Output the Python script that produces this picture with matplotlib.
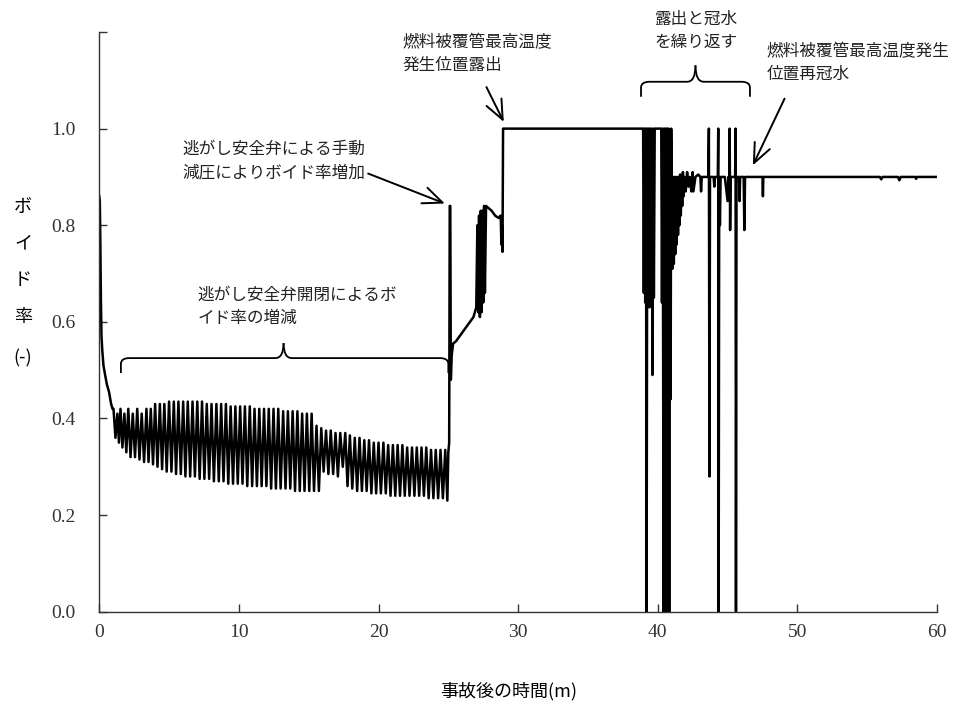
import numpy as np
import matplotlib
matplotlib.use('Agg')
import matplotlib.pyplot as plt
import matplotlib.patches as patches
from matplotlib.path import Path

plt.rcParams['font.family'] = ['Noto Sans CJK JP', 'DejaVu Sans']

# ----------------------------------------------------------------
# donnees : temps (min) / taux de vide (-)

# chute initiale
t_blow = [0.0, 0.04, 0.08, 0.12, 0.16, 0.22, 0.30, 0.42, 0.55, 0.70, 0.85, 0.95]
v_blow = [0.86, 0.85, 0.76, 0.64, 0.57, 0.54, 0.51, 0.49, 0.47, 0.455, 0.43, 0.42]

# ouverture / fermeture des SRV : sommets et creux
t_peak = [1.02, 1.30, 1.52, 1.80, 2.08, 2.40, 2.72, 3.04, 3.38, 3.69, 4.00, 4.34,
          4.66, 5.00, 5.34, 5.67, 6.01, 6.34, 6.68, 7.02, 7.36, 7.70, 8.04, 8.39,
          8.73, 9.07, 9.41, 9.75, 10.09, 10.43, 10.78, 11.12, 11.46, 11.80, 12.14, 12.48,
          12.82, 13.17, 13.51, 13.85, 14.19, 14.53, 14.87, 15.21, 15.56, 15.90, 16.24, 16.58,
          16.92, 17.26, 17.62, 17.95, 18.30, 18.64, 18.98, 19.32, 19.66, 20.00, 20.35, 20.69,
          21.03, 21.37, 21.71, 22.05, 22.40, 22.74, 23.08, 23.42, 23.76, 24.10, 24.44, 24.78]
v_peak = [0.42, 0.41, 0.42, 0.41, 0.42, 0.41, 0.42, 0.41, 0.42, 0.42, 0.43, 0.43,
          0.43, 0.435, 0.435, 0.435, 0.435, 0.435, 0.435, 0.435, 0.435, 0.43, 0.43, 0.43,
          0.43, 0.43, 0.425, 0.425, 0.425, 0.425, 0.425, 0.42, 0.42, 0.42, 0.42, 0.42,
          0.42, 0.415, 0.415, 0.415, 0.415, 0.41, 0.41, 0.41, 0.385, 0.38, 0.375, 0.375,
          0.37, 0.37, 0.37, 0.365, 0.36, 0.36, 0.355, 0.355, 0.35, 0.35, 0.35, 0.345,
          0.345, 0.345, 0.345, 0.34, 0.34, 0.34, 0.34, 0.34, 0.335, 0.335, 0.335, 0.335]
t_trough = [1.16, 1.41, 1.66, 1.94, 2.24, 2.56, 2.88, 3.21, 3.53, 3.85, 4.17, 4.50,
            4.83, 5.17, 5.50, 5.84, 6.17, 6.51, 6.85, 7.19, 7.53, 7.87, 8.21, 8.56,
            8.90, 9.24, 9.58, 9.92, 10.26, 10.60, 10.95, 11.29, 11.63, 11.97, 12.31, 12.65,
            12.99, 13.34, 13.68, 14.02, 14.36, 14.70, 15.04, 15.38, 15.73, 16.07, 16.41, 16.75,
            17.09, 17.44, 17.78, 18.12, 18.47, 18.81, 19.15, 19.49, 19.83, 20.17, 20.52, 20.86,
            21.20, 21.54, 21.88, 22.22, 22.57, 22.91, 23.25, 23.59, 23.93, 24.27, 24.61, 24.93]
v_trough = [0.36, 0.35, 0.34, 0.33, 0.32, 0.32, 0.315, 0.31, 0.31, 0.305, 0.30, 0.295,
            0.29, 0.29, 0.285, 0.285, 0.28, 0.28, 0.28, 0.275, 0.275, 0.275, 0.27, 0.27,
            0.27, 0.265, 0.265, 0.265, 0.265, 0.26, 0.26, 0.26, 0.26, 0.26, 0.255, 0.255,
            0.255, 0.255, 0.255, 0.25, 0.25, 0.25, 0.25, 0.25, 0.25, 0.29, 0.285, 0.285,
            0.28, 0.30, 0.26, 0.255, 0.25, 0.25, 0.25, 0.245, 0.245, 0.245, 0.245, 0.24,
            0.24, 0.24, 0.24, 0.24, 0.24, 0.24, 0.24, 0.235, 0.235, 0.235, 0.235, 0.23]

# depressurisation manuelle puis decouvrement
t_depr = [25.00, 25.06, 25.10, 25.14, 25.18, 25.24, 25.34, 25.55, 25.80, 26.05, 26.30, 26.55,
          26.80, 27.00, 27.08, 27.14, 27.20, 27.26, 27.32, 27.38, 27.44, 27.50, 27.56, 27.62,
          27.70, 27.90, 28.10, 28.35, 28.60, 28.75, 28.80, 28.84, 28.88, 28.92]
v_depr = [0.33, 0.35, 0.84, 0.84, 0.48, 0.53, 0.555, 0.56, 0.57, 0.58, 0.59, 0.60,
          0.61, 0.63, 0.80, 0.62, 0.82, 0.61, 0.83, 0.62, 0.83, 0.64, 0.84, 0.66,
          0.84, 0.835, 0.83, 0.82, 0.815, 0.82, 0.76, 0.80, 0.745, 1.0]

# decouvrement / renoyage repetes
t_core = [38.95, 39.00, 39.05, 39.10, 39.15, 39.20, 39.25, 39.30, 39.35, 39.40, 39.45, 39.50,
          39.55, 39.62, 39.68, 39.72, 39.78, 40.25, 40.30, 40.35, 40.42, 40.47, 40.52, 40.57,
          40.62, 40.67, 40.72, 40.77, 40.82, 40.87, 40.92, 40.96]
v_core = [1.0, 0.66, 1.0, 0.64, 1.0, 0.0, 1.0, 0.65, 1.0, 0.63, 1.0, 0.66,
          1.0, 0.49, 1.0, 0.65, 1.0, 1.0, 0.64, 1.0, 0.0, 1.0, 0.0, 1.0,
          0.0, 1.0, 0.0, 1.0, 0.0, 0.98, 0.44, 1.0]

# renoyage
t_refl = [41.00, 41.05, 41.10, 41.15, 41.20, 41.25, 41.30, 41.35, 41.40, 41.45, 41.50, 41.55,
          41.60, 41.65, 41.70, 41.75, 41.80, 41.85, 41.90, 42.00, 42.10, 42.20, 42.30, 42.40,
          42.50, 42.55, 42.70, 42.90, 43.05, 43.10, 43.15, 43.40, 43.62, 43.66, 43.70, 43.74,
          44.00, 44.05, 44.10, 44.30, 44.33, 44.36, 44.40, 44.45, 44.50, 44.80, 45.00, 45.05,
          45.12, 45.15, 45.18, 45.22, 45.54, 45.57, 45.60, 45.64, 45.82, 45.86, 45.90, 46.15,
          46.20, 46.25, 47.50, 47.53, 47.56, 55.90, 56.00, 56.10, 57.20, 57.30, 57.40, 58.45,
          58.50, 58.55, 60.00]
v_refl = [0.90, 0.71, 0.90, 0.72, 0.90, 0.74, 0.90, 0.76, 0.90, 0.78, 0.90, 0.80,
          0.905, 0.82, 0.90, 0.84, 0.91, 0.86, 0.90, 0.87, 0.91, 0.88, 0.90, 0.87,
          0.91, 0.87, 0.90, 0.905, 0.90, 0.87, 0.90, 0.90, 0.90, 1.0, 0.28, 0.90,
          0.90, 0.88, 0.90, 0.90, 1.0, 0.0, 0.90, 0.80, 0.90, 0.90, 0.85, 0.90,
          0.90, 1.0, 0.79, 0.90, 0.90, 1.0, 0.0, 0.90, 0.90, 0.85, 0.90, 0.90,
          0.79, 0.90, 0.90, 0.86, 0.90, 0.90, 0.895, 0.90, 0.90, 0.893, 0.90, 0.90,
          0.896, 0.90, 0.90]

x_ticks = [0, 10, 20, 30, 40, 50, 60]
y_ticks = [0.0, 0.2, 0.4, 0.6, 0.8, 1.0, 1.2]
y_ticklabels = ['0.0', '0.2', '0.4', '0.6', '0.8', '1.0', '']

# ----------------------------------------------------------------
# assemblage de la courbe

t_osc = np.empty(2 * len(t_peak))
t_osc[0::2] = t_peak
t_osc[1::2] = t_trough
v_osc = np.empty(2 * len(v_peak))
v_osc[0::2] = v_peak
v_osc[1::2] = v_trough

t = np.concatenate([t_blow, t_osc, t_depr, t_core, t_refl])
v = np.concatenate([v_blow, v_osc, v_depr, v_core, v_refl])

# ----------------------------------------------------------------
# plot

fig = plt.figure(figsize=(9.59, 7.05), dpi=100)
ax = fig.add_axes([0.1035, 0.1323, 0.8736, 0.8223])

ax.plot(t, v, color='k', lw=1.8)

ax.set_xlim(0, 60)
ax.set_ylim(0, 1.2)
ax.set_xticks(x_ticks)
ax.set_yticks(y_ticks)
ax.set_yticklabels(y_ticklabels)
for lab in ax.get_xticklabels() + ax.get_yticklabels():
    lab.set_family('Liberation Serif')
    lab.set_fontsize(14)
    lab.set_color('#333333')
ax.tick_params(direction='in', length=6, width=1, color='#333333')
ax.tick_params(axis='y', pad=17)
ax.tick_params(axis='x', pad=9)
for s in ['top', 'right']:
    ax.spines[s].set_visible(False)
for s in ['left', 'bottom']:
    ax.spines[s].set_linewidth(1.0)
    ax.spines[s].set_color('#333333')

ax.set_xlabel('事故後の時間(m)', fontsize=13)
ax.xaxis.set_label_coords(0.489, -0.122)

# libelle vertical de l'axe y
for ch, yy in zip(['ボ', 'イ', 'ド', '率', '(-)'], [206.7, 243, 280, 316.7, 358]):
    fig.text(23 / 959, 1 - yy / 705, ch, ha='center', va='center', fontsize=13)


def accolade(ax, x0, x1, xm, y, h_end, h_tip, rx, ry):
    # accolade horizontale, pointe vers le haut
    codes = [Path.MOVETO, Path.LINETO, Path.CURVE3, Path.CURVE3, Path.LINETO,
             Path.CURVE3, Path.CURVE3]
    for xa, sgn in [(x0, 1), (x1, -1)]:
        verts = [(xa, y - h_end), (xa, y - ry), (xa, y), (xa + sgn * rx, y),
                 (xm - sgn * rx, y), (xm, y), (xm, y + h_tip)]
        ax.add_patch(patches.PathPatch(Path(verts, codes), fill=False,
                                       lw=1.3, ec='k', clip_on=False))


accolade(ax, 1.55, 25.0, 13.2, 0.525, 0.031, 0.031, 0.6, 0.012)
accolade(ax, 38.8, 46.6, 42.7, 1.097, 0.031, 0.034, 0.6, 0.012)

arrow = dict(arrowstyle='->,head_length=0.7,head_width=0.3', lw=1.4, color='k',
             mutation_scale=20, shrinkA=0, shrinkB=0)
ax.annotate('', xy=(24.75, 0.845), xytext=(19.26, 0.907), arrowprops=arrow)
ax.annotate('', xy=(28.97, 1.014), xytext=(27.73, 1.086), arrowprops=arrow,
            annotation_clip=False)
ax.annotate('', xy=(46.81, 0.924), xytext=(49.08, 1.062), arrowprops=arrow,
            annotation_clip=False)

txt = dict(fontsize=12, linespacing=1.45, va='top', color='#222222')
ax.text(5.93, 0.974, '逃がし安全弁による手動\n減圧によりボイド率増加', ha='left', **txt)
ax.text(7.06, 0.672, '逃がし安全弁開閉によるボ\nイド率の増減', ha='left', **txt)
ax.text(21.74, 1.195, '燃料被覆管最高温度\n発生位置露出', ha='left', **txt)
ax.text(42.71, 1.243, '露出と冠水\nを繰り返す', ha='center', multialignment='center', **txt)
ax.text(47.8, 1.177, '燃料被覆管最高温度発生\n位置再冠水', ha='left', **txt)

plt.savefig('out.png', dpi=100)
